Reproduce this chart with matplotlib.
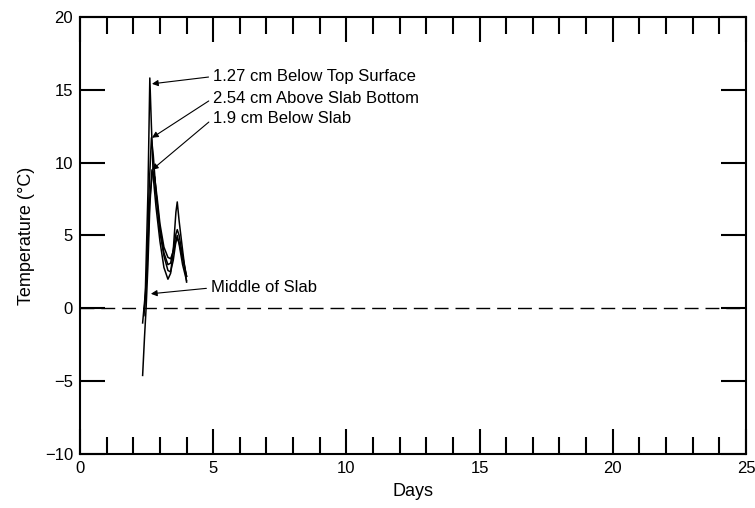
import matplotlib.pyplot as plt
from matplotlib.ticker import MultipleLocator

plt.rcParams['font.family'] = ['Liberation Sans', 'DejaVu Sans']

# temperature traces (days, deg C)
days_top = [2.35, 2.45, 2.55, 2.62, 2.68, 2.75, 2.85, 3.0, 3.15, 3.3, 3.4, 3.5, 3.6, 3.65, 3.72, 3.85, 4.0]
temp_top = [-1.0, 1.0, 8.0, 15.8, 12.5, 9.0, 7.0, 4.6, 2.8, 2.0, 2.4, 4.0, 6.6, 7.3, 6.0, 4.0, 1.8]

days_bot = [2.4, 2.5, 2.6, 2.68, 2.75, 2.85, 3.0, 3.15, 3.3, 3.4, 3.5, 3.6, 3.65, 3.72, 3.85, 4.0]
temp_bot = [-0.5, 2.0, 8.5, 11.7, 10.5, 8.0, 5.5, 3.8, 3.0, 3.1, 4.0, 5.1, 5.4, 5.0, 3.6, 2.2]

days_below = [2.42, 2.52, 2.62, 2.72, 2.8, 2.9, 3.0, 3.15, 3.3, 3.4, 3.5, 3.6, 3.65, 3.72, 3.85, 4.0]
temp_below = [0.0, 3.0, 7.5, 9.4, 9.0, 7.5, 5.8, 4.2, 3.5, 3.4, 3.9, 4.6, 4.8, 4.5, 3.4, 2.2]

days_mid = [2.35, 2.42, 2.48, 2.55, 2.62, 2.7, 2.8, 2.9, 3.0, 3.15, 3.3, 3.4, 3.5, 3.6, 3.65, 3.72, 3.85, 4.0]
temp_mid = [-4.6, -2.0, 0.0, 3.0, 7.0, 9.5, 9.0, 7.0, 5.2, 3.6, 2.6, 2.5, 3.3, 4.6, 5.0, 4.4, 3.0, 1.9]

labels = ["1.27 cm Below Top Surface", "2.54 cm Above Slab Bottom",
          "1.9 cm Below Slab", "Middle of Slab"]
arrow_tips = [(2.7, 15.4), (2.7, 11.7), (2.7, 9.5), (2.66, 1.0)]
text_pos = [(4.98, 15.9), (4.98, 14.4), (4.98, 13.0), (4.9, 1.4)]

fig = plt.figure(figsize=(7.55, 5.08), dpi=100)
ax = fig.add_axes([0.106, 0.106, 0.882, 0.861])

ax.axhline(0, color='black', lw=1.0, ls=(0, (10, 5)))
for d, t in [(days_top, temp_top), (days_bot, temp_bot),
             (days_below, temp_below), (days_mid, temp_mid)]:
    ax.plot(d, t, color='black', lw=1.1)

for lab, tip, pos in zip(labels, arrow_tips, text_pos):
    ax.annotate(lab, xy=tip, xytext=pos, fontsize=12, va='center', ha='left',
                arrowprops=dict(arrowstyle='-|>', color='black', lw=0.8,
                                mutation_scale=9, shrinkA=1, shrinkB=0,
                                relpos=(0, 0.5)))

ax.set_xlim(0, 25)
ax.set_ylim(-10, 20)
ax.xaxis.set_major_locator(MultipleLocator(5))
ax.xaxis.set_minor_locator(MultipleLocator(1))
ax.yaxis.set_major_locator(MultipleLocator(5))
ax.tick_params(which='both', direction='in', top=True, right=True,
               labelsize=12, width=1.5, pad=5)
ax.tick_params(which='major', length=18)
ax.tick_params(which='minor', length=12)
for s in ax.spines.values():
    s.set_linewidth(1.5)

ax.set_xlabel("Days", fontsize=13, labelpad=5)
ax.set_ylabel("Temperature (°C)", fontsize=13, labelpad=7)

fig.savefig("out.png", dpi=100)
